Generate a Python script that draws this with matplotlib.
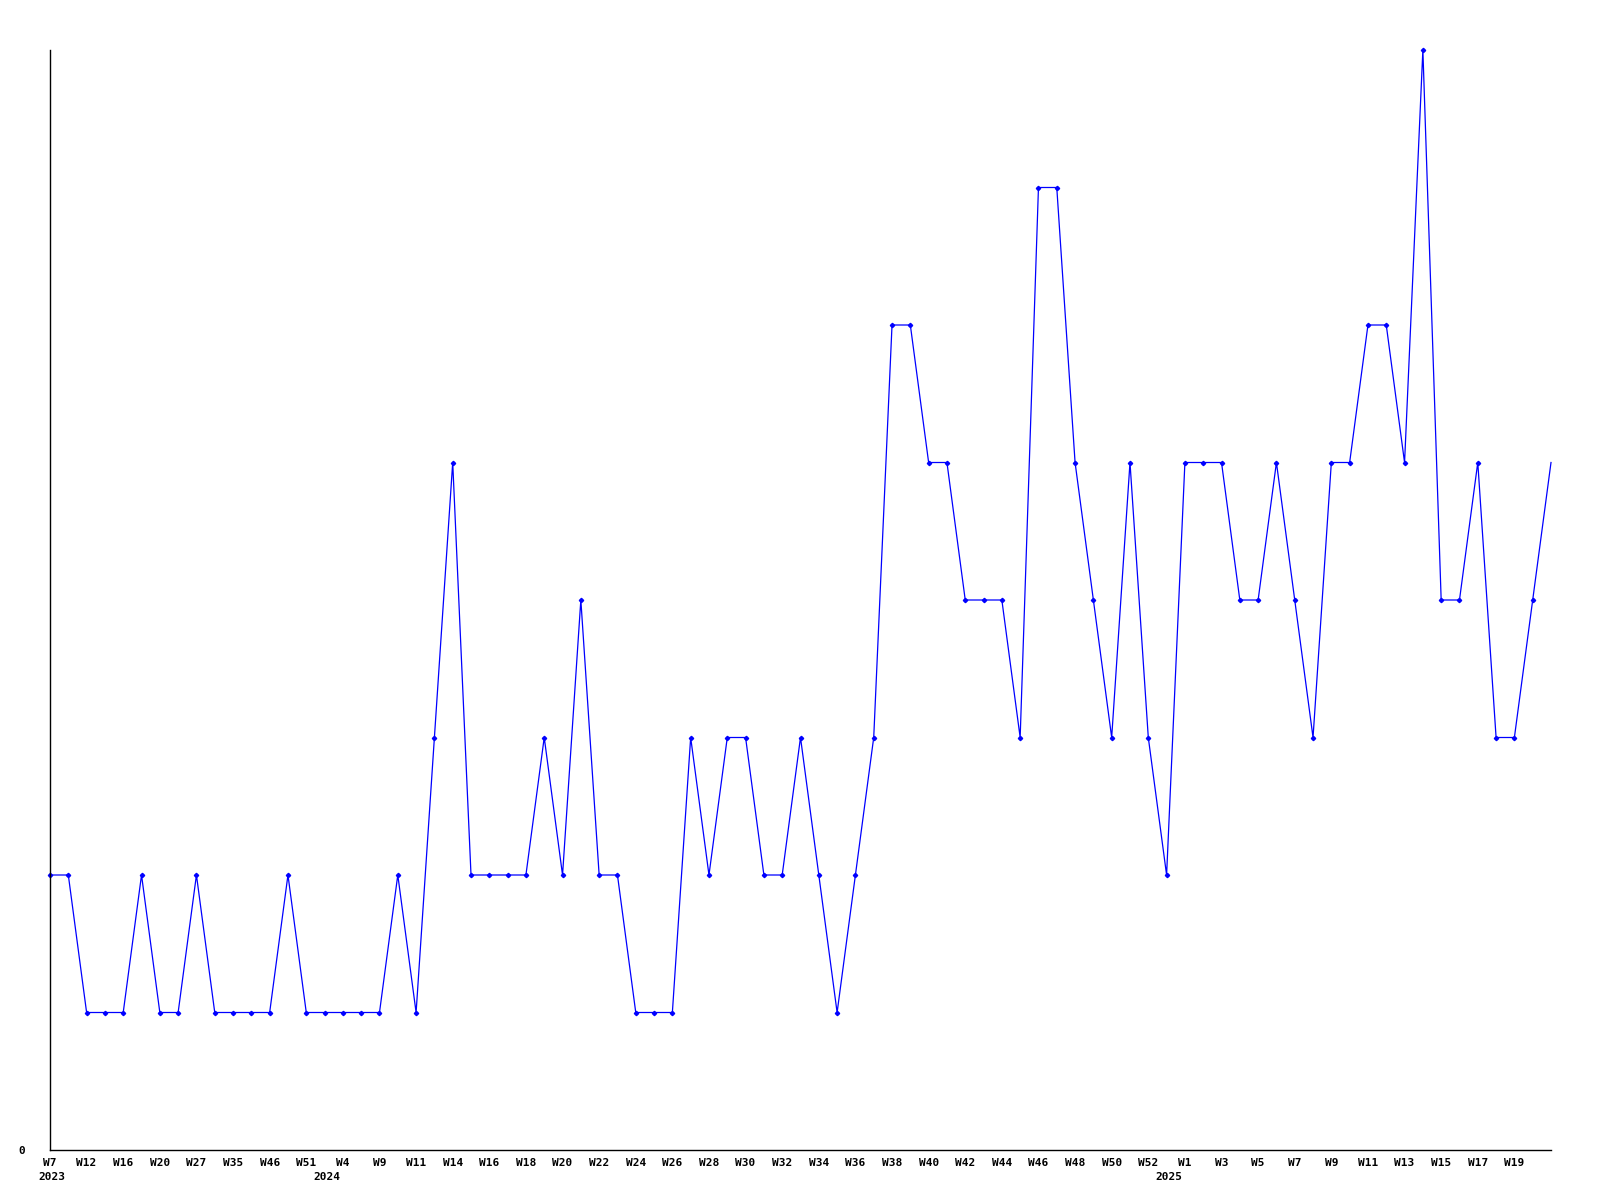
import numpy as np
import matplotlib.pyplot as plt

# weekly counts, one value per week shown on the axis
values = [2, 2, 1, 1, 1, 2, 1, 1, 2, 1, 1, 1, 1, 2, 1, 1, 1, 1, 1, 2,
          1, 3, 5, 2, 2, 2, 2, 3, 2, 4, 2, 2, 1, 1, 1, 3, 2, 3, 3, 2,
          2, 3, 2, 1, 2, 3, 6, 6, 5, 5, 4, 4, 4, 3, 7, 7, 5, 4, 3, 5,
          3, 2, 5, 5, 5, 4, 4, 5, 4, 3, 5, 5, 6, 6, 5, 8, 4, 4, 5, 3,
          3, 4, 5]

# labels drawn on every other point
week_labels = ['W7', 'W12', 'W16', 'W20', 'W27', 'W35', 'W46', 'W51', 'W4', 'W9',
               'W11', 'W14', 'W16', 'W18', 'W20', 'W22', 'W24', 'W26', 'W28', 'W30',
               'W32', 'W34', 'W36', 'W38', 'W40', 'W42', 'W44', 'W46', 'W48', 'W50',
               'W52', 'W1', 'W3', 'W5', 'W7', 'W9', 'W11', 'W13', 'W15', 'W17', 'W19']

years = ['2023', '2024', '2025']
year_pos = [0.1, 15.1, 61.1]

font = dict(family='DejaVu Sans Mono', weight='bold', size=8)

n = len(values)
x = np.arange(n)

fig = plt.figure(figsize=(16, 12), dpi=100)
ax = fig.add_axes([50 / 1600, 50 / 1200, 1501 / 1600, 1100 / 1200])

ax.plot(x, values, color='#0000ff', lw=0.9, marker='D', ms=2.2,
        markevery=list(range(n - 1)), clip_on=False)

ax.set_xlim(0, n - 1)
ax.set_ylim(0, 8)

for s in ['top', 'right']:
    ax.spines[s].set_visible(False)
for s in ['left', 'bottom']:
    ax.spines[s].set_linewidth(1.0)

ax.set_xticks(np.arange(0, 2 * len(week_labels), 2))
ax.set_xticklabels(week_labels, fontdict=font)
ax.set_yticks([0])
ax.set_yticklabels(['0'], fontdict=font)
ax.tick_params(axis='x', length=0, pad=6)
ax.tick_params(axis='y', length=0, pad=18)

for yr, p in zip(years, year_pos):
    ax.annotate(yr, xy=(p, 0), xycoords=('data', 'axes fraction'),
                xytext=(0, -16), textcoords='offset points',
                ha='center', va='top', **font)

fig.savefig('out.png', dpi=100)
